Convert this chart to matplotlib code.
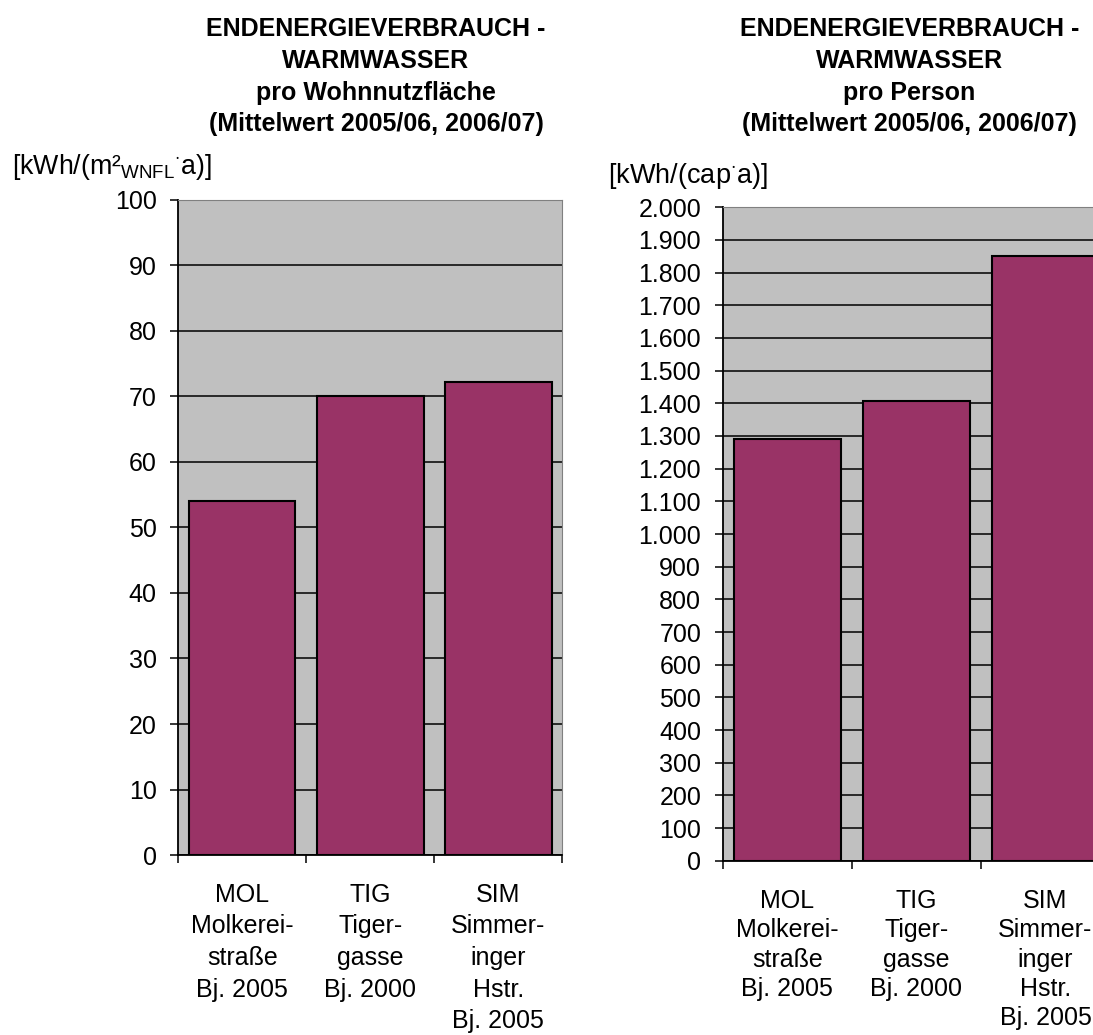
import numpy as np
from matplotlib import pyplot as plt
from matplotlib.ticker import FuncFormatter

plt.rcParams['font.family'] = ['Liberation Sans', 'DejaVu Sans']
plt.rcParams['mathtext.fontset'] = 'custom'
plt.rcParams['mathtext.rm'] = 'Liberation Sans'
plt.rcParams['mathtext.it'] = 'Liberation Sans'

# Gebäude und Werte
labels = ['MOL\nMolkerei-\nstraße\nBj. 2005',
          'TIG\nTiger-\ngasse\nBj. 2000',
          'SIM\nSimmer-\ninger\nHstr.\nBj. 2005']
pro_flaeche = [54, 70, 72.2]       # kWh/(m² WNFL a)
pro_person = [1290, 1407, 1851]    # kWh/(cap a)

BAR = '#993366'
BG = '#C0C0C0'
FS = 18


def tausender(v, pos):
    return '{:,.0f}'.format(v).replace(',', '.')


def draw(ax, values, ymax, step, fmt=None, xpad=20, lsp=1.4):
    x = np.arange(len(values))
    ax.set_facecolor(BG)
    ax.bar(x, values, width=0.83, color=BAR, edgecolor='black', linewidth=1.5, zorder=3)
    ax.set_xlim(-0.5, len(values) - 0.5)
    ax.set_ylim(0, ymax)
    ax.set_yticks(np.arange(0, ymax + step / 2, step))
    if fmt:
        ax.yaxis.set_major_formatter(FuncFormatter(fmt))
    ax.yaxis.grid(True, color='black', linewidth=1.1, zorder=1)
    ax.set_axisbelow(True)
    # Kategorien mittig, Striche an den Grenzen
    ax.set_xticks(x)
    ax.set_xticklabels(labels, fontsize=FS, linespacing=lsp)
    ax.set_xticks(np.arange(-0.5, len(values)), minor=True)
    ax.tick_params(axis='x', which='major', length=0, pad=xpad)
    ax.tick_params(axis='x', which='minor', length=6, width=1.1, direction='out')
    ax.tick_params(axis='y', length=6, width=1.1, direction='out', pad=9.5, labelsize=FS)
    for s in ['top', 'right']:
        ax.spines[s].set_color('#808080')
    for s in ['left', 'bottom']:
        ax.spines[s].set_color('black')
        ax.spines[s].set_linewidth(1.3)


fig = plt.figure(figsize=(10.93, 10.35), dpi=100)

ax1 = fig.add_axes([0.1631, 0.1739, 0.3515, 0.6329])
draw(ax1, pro_flaeche, 100, 10, xpad=20, lsp=1.4)

ax2 = fig.add_axes([0.6612, 0.1684, 0.3544, 0.6313])
draw(ax2, pro_person, 2000, 100, tausender, xpad=20.5, lsp=1.28)

# Titel
for xc, zeile3 in [(0.344, 'pro Wohnnutzfläche'), (0.832, 'pro Person')]:
    fig.text(xc, 1 - 36 / 1035, 'ENDENERGIEVERBRAUCH -', ha='center', va='baseline',
             fontsize=18, fontweight='bold')
    fig.text(xc, 1 - 68 / 1035, 'WARMWASSER', ha='center', va='baseline',
             fontsize=18, fontweight='bold')
    fig.text(xc, 1 - 100 / 1035, zeile3, ha='center', va='baseline',
             fontsize=18, fontweight='bold')
    fig.text(xc, 1 - 131 / 1035, '(Mittelwert 2005/06, 2006/07)', ha='center',
             va='baseline', fontsize=18, fontweight='bold')

# Einheiten
fig.text(12 / 1093, 1 - 174 / 1035, r'[kWh/(m²$_{\mathrm{WNFL}}{}^{\cdot}$a)]',
         ha='left', va='baseline', fontsize=19.3)
fig.text(608 / 1093, 1 - 183 / 1035, r'[kWh/(cap$^{\cdot}$a)]',
         ha='left', va='baseline', fontsize=19.5)

plt.savefig('out.png', dpi=100)
